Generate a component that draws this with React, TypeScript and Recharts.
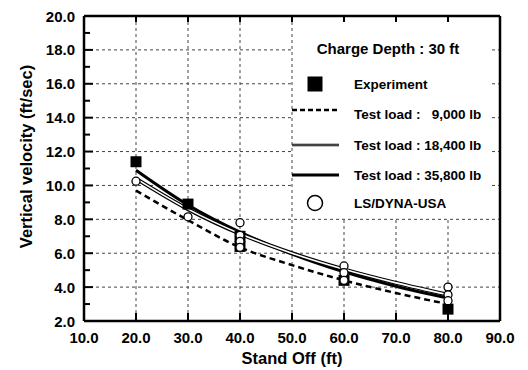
import React from "react";
import {
  ComposedChart,
  Line,
  Scatter,
  XAxis,
  YAxis,
  CartesianGrid,
} from "recharts";

// stand-off distance (ft) where the fitted curves are read
const standOff = [20, 30, 40, 50, 60, 70, 80];
// fitted curves, vertical velocity (ft/sec)
const load9000 = [9.7, 7.95, 6.35, 5.3, 4.4, 3.65, 3.0];
const load18400 = [10.4, 8.6, 7.15, 6.0, 5.05, 4.25, 3.55];
const load35800 = [10.9, 8.85, 7.25, 5.95, 4.9, 4.05, 3.35];

const experiment = [
  { x: 20, y: 11.4 },
  { x: 30, y: 8.9 },
  { x: 40, y: 7.0 },
  { x: 40, y: 6.4 },
  { x: 60, y: 4.4 },
  { x: 80, y: 2.7 },
];
const lsDyna = [
  { x: 20, y: 10.25 },
  { x: 30, y: 8.15 },
  { x: 40, y: 7.8 },
  { x: 40, y: 7.05 },
  { x: 40, y: 6.7 },
  { x: 40, y: 6.35 },
  { x: 60, y: 5.25 },
  { x: 60, y: 4.85 },
  { x: 60, y: 4.4 },
  { x: 80, y: 4.0 },
  { x: 80, y: 3.55 },
  { x: 80, y: 3.2 },
];

const xTicks = [10, 20, 30, 40, 50, 60, 70, 80, 90];
const yTicks = [2, 3, 4, 5, 6, 7, 8, 9, 10, 11, 12, 13, 14, 15, 16, 17, 18, 19, 20];
const gridX = [20, 30, 40, 50, 60, 70, 80];
const gridY = [4, 6, 8, 10, 12, 14, 16, 18];

const curves = standOff.map((x, i) => ({
  x,
  l9: load9000[i],
  l18: load18400[i],
  l36: load35800[i],
}));

const FONT = '"Liberation Sans", Arial, sans-serif';
const axisLine = { stroke: "#000", strokeWidth: 2.5 };

const LeftTick = (props: any) => {
  const { x, y, payload } = props;
  const v = payload.value;
  const major = v % 2 === 0;
  return (
    <g>
      <line x1={x} y1={y} x2={x + (major ? 9 : 6)} y2={y} stroke="#000" strokeWidth={2} />
      {major && (
        <text x={x - 9} y={y} dy={5.5} textAnchor="end" fontFamily={FONT} fontWeight="bold" fontSize={15} fill="#000">
          {v.toFixed(1)}
        </text>
      )}
    </g>
  );
};

const RightTick = (props: any) => {
  const { x, y } = props;
  return <line x1={x} y1={y} x2={x - 6} y2={y} stroke="#000" strokeWidth={2} />;
};

const BottomTick = (props: any) => {
  const { x, y, payload } = props;
  return (
    <g>
      <line x1={x} y1={y} x2={x} y2={y - 8} stroke="#000" strokeWidth={2} />
      <text x={x} y={y} dy={22} textAnchor="middle" fontFamily={FONT} fontWeight="bold" fontSize={15} fill="#000">
        {payload.value.toFixed(1)}
      </text>
    </g>
  );
};

const TopTick = (props: any) => {
  const { x, y } = props;
  return <line x1={x} y1={y} x2={x} y2={y + 6} stroke="#000" strokeWidth={2} />;
};

const Square = (props: any) => {
  const { cx, cy } = props;
  return <rect x={cx - 5.5} y={cy - 5.5} width={11} height={11} fill="#000" />;
};

const Circle = (props: any) => {
  const { cx, cy } = props;
  return <circle cx={cx} cy={cy} r={4} fill="#fff" stroke="#000" strokeWidth={1.3} />;
};

const legendText = { fontFamily: FONT, fontWeight: "bold" as const, fontSize: 13.5, fill: "#000" };

const LegendBox = () => (
  <div style={{ position: "absolute", left: 293, top: 22, width: 196, height: 196, background: "#fff" }}>
    <svg width={196} height={196} style={{ overflow: "visible" }}>
      <text x={95} y={26} dy={5.5} textAnchor="middle" {...legendText} fontSize={15}>
        Charge Depth : 30 ft
      </text>
      <rect x={14.5} y={54.5} width={15} height={15} fill="#000" />
      <text x={61} y={62} dy={5} {...legendText}>Experiment</text>
      <line x1={-1} y1={88} x2={46} y2={88} stroke="#000" strokeWidth={2.5} strokeDasharray="5 3" />
      <text x={61} y={92} dy={5} {...legendText} style={{ whiteSpace: "pre" }}>
        {"Test load :   9,000 lb"}
      </text>
      <line x1={-1} y1={123} x2={46} y2={123} stroke="#000" strokeWidth={2.5} />
      <line x1={-1} y1={123} x2={46} y2={123} stroke="#aaa" strokeWidth={0.8} />
      <text x={61} y={123} dy={5} {...legendText}>Test load : 18,400 lb</text>
      <line x1={-1} y1={153} x2={46} y2={153} stroke="#000" strokeWidth={3} />
      <text x={61} y={153} dy={5} {...legendText}>Test load : 35,800 lb</text>
      <circle cx={22} cy={181} r={7.5} fill="#fff" stroke="#000" strokeWidth={1.5} />
      <text x={61} y={181} dy={5} {...legendText}>LS/DYNA-USA</text>
    </svg>
  </div>
);

export default function App() {
  return (
    <div style={{ position: "absolute", left: 0, top: 0, width: 528, height: 370, background: "#fff" }}>
      <ComposedChart
        width={528}
        height={370}
        data={curves}
        margin={{ top: 0, right: 0, bottom: 0, left: 0 }}
      >
        <CartesianGrid
          horizontalValues={gridY}
          verticalValues={gridX}
          stroke="#444"
          strokeDasharray="3 3"
        />
        <XAxis
          dataKey="x"
          type="number"
          domain={[10, 90]}
          ticks={xTicks}
          height={49}
          axisLine={axisLine}
          tickLine={false}
          tickSize={0}
          tickMargin={0}
          tick={BottomTick}
          interval={0}
          label={{
            content: (p: any) => (
              <text
                x={p.viewBox.x + p.viewBox.width / 2}
                y={p.viewBox.y + 43}
                textAnchor="middle"
                fontFamily={FONT}
                fontWeight="bold"
                fontSize={16.5}
                fill="#000"
              >
                Stand Off (ft)
              </text>
            ),
          }}
        />
        <XAxis
          xAxisId="top"
          orientation="top"
          dataKey="x"
          type="number"
          domain={[10, 90]}
          ticks={[20, 30, 40, 50, 60, 70, 80]}
          height={16}
          axisLine={axisLine}
          tickLine={false}
          tickSize={0}
          tickMargin={0}
          tick={TopTick}
          interval={0}
        />
        <YAxis
          type="number"
          domain={[2, 20]}
          ticks={yTicks}
          width={84}
          axisLine={axisLine}
          tickLine={false}
          tickSize={0}
          tickMargin={0}
          tick={LeftTick}
          interval={0}
          label={{
            content: (p: any) => {
              const cx = p.viewBox.x + 26;
              const cy = p.viewBox.y + p.viewBox.height / 2 - 12;
              return (
                <text
                  x={cx}
                  y={cy}
                  transform={`rotate(-90 ${cx} ${cy})`}
                  textAnchor="middle"
                  dominantBaseline="central"
                  fontFamily={FONT}
                  fontWeight="bold"
                  fontSize={16.5}
                  fill="#000"
                >
                  Vertical velocity (ft/sec)
                </text>
              );
            },
          }}
        />
        <YAxis
          yAxisId="right"
          orientation="right"
          type="number"
          domain={[2, 20]}
          ticks={yTicks}
          width={28}
          axisLine={axisLine}
          tickLine={false}
          tickSize={0}
          tickMargin={0}
          tick={RightTick}
          interval={0}
        />
        <Line
          dataKey="l9"
          type="monotone"
          stroke="#000"
          strokeWidth={2.5}
          strokeDasharray="6 4"
          dot={false}
          isAnimationActive={false}
        />
        <Line
          dataKey="l36"
          type="monotone"
          stroke="#000"
          strokeWidth={3}
          dot={false}
          isAnimationActive={false}
        />
        <Line
          dataKey="l18"
          type="monotone"
          stroke="#000"
          strokeWidth={4}
          dot={false}
          isAnimationActive={false}
        />
        <Line
          dataKey="l18"
          type="monotone"
          stroke="#fff"
          strokeWidth={1.6}
          dot={false}
          isAnimationActive={false}
        />
        <Scatter data={experiment} dataKey="y" shape={Square} isAnimationActive={false} />
        <Scatter data={lsDyna} dataKey="y" shape={Circle} isAnimationActive={false} />
      </ComposedChart>
      <LegendBox />
    </div>
  );
}
